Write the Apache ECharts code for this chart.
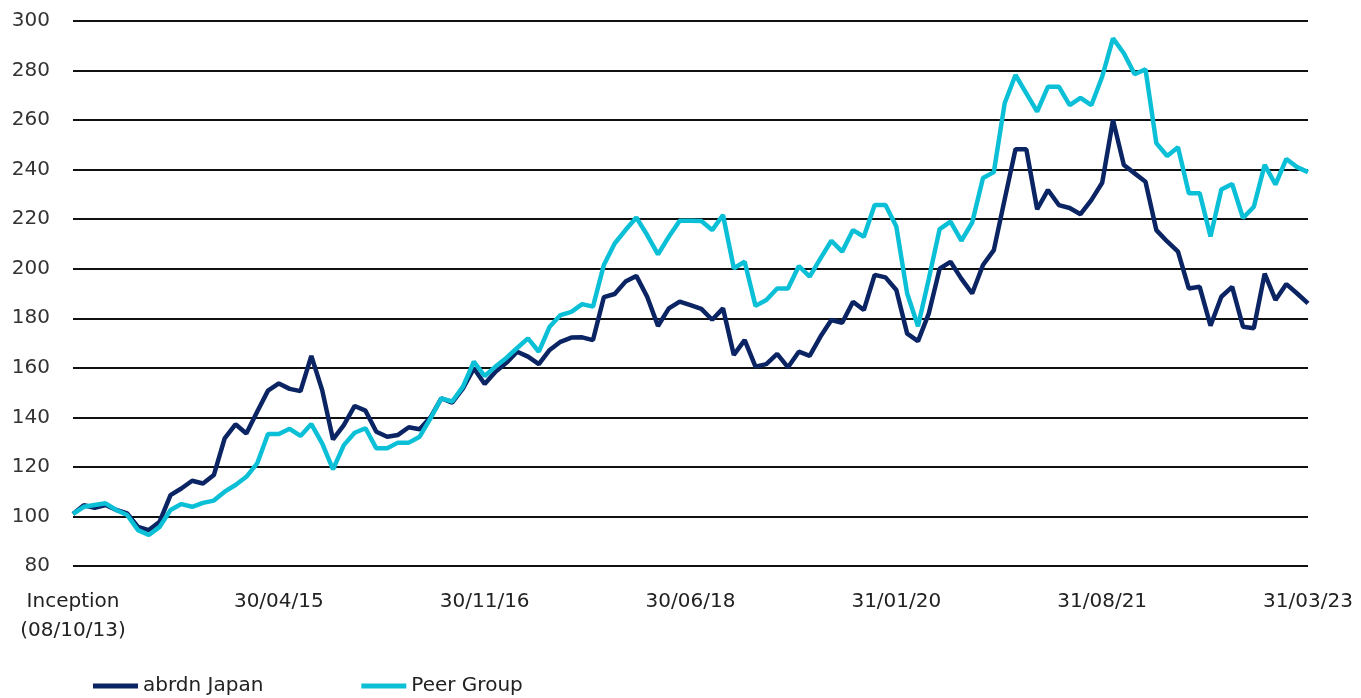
<!DOCTYPE html>
<html>
<head>
<meta charset="utf-8">
<script src="https://cdn.jsdelivr.net/npm/echarts@6/dist/echarts.min.js"></script>
<style>
  html, body { margin: 0; padding: 0; background: #fff; }
  #chart { width: 1361px; height: 698px; }
</style>
</head>
<body>
<div id="chart"></div>
<script>
// series names
var seriesNames = ["abrdn Japan", "Peer Group"];

// month-end dates from inception (08/10/13) to 31/03/23
var dates = ["Inception\n(08/10/13)"];
(function () {
  var y = 2013, m = 10;
  while (y < 2023 || (y === 2023 && m <= 3)) {
    var last = new Date(y, m, 0).getDate();
    dates.push(last + "/" + String(m).padStart(2, "0") + "/" + String(y % 100).padStart(2, "0"));
    m++;
    if (m > 12) { m = 1; y++; }
  }
})();

// abrdn Japan (rebased to 100)
var fundValues = [
  101, 104.5, 103.5, 104.6, 102.6, 101.2, 95.8, 94.5, 97.9, 108.6,
  111.3, 114.4, 113.3, 116.7, 131.5, 137.2, 133.5, 142.3, 150.8, 153.7,
  151.5, 150.6, 164.8, 151, 131.1, 136.9, 144.6, 142.7, 134.2, 132.2,
  132.9, 136, 135.2, 140, 147.7, 145.9, 151.7, 159.8, 153.5, 158.4,
  162, 166.5, 164.5, 161.5, 167.2, 170.5, 172.2, 172.3, 171.2, 188.5,
  189.8, 194.8, 197.1, 188.7, 176.9, 184, 186.7, 185.3, 183.8, 179.4,
  184, 165.2, 171.2, 160.5, 161.5, 165.6, 160.2, 166.5, 164.8, 172.6,
  179.3, 178.2, 186.7, 183.3, 197.5, 196.5, 191.4, 173.8, 170.8, 182,
  200, 202.8, 196, 190, 201.5, 207.5, 228, 248.2, 248.2, 224,
  231.8, 225.7, 224.5, 222, 227.7, 234.7, 260, 241.9, 238.5, 235.1,
  215.6, 211, 206.9, 192, 192.7, 177, 188.7, 192.7, 176.6, 176,
  198, 187.4, 193.8, 190, 186
];

// Peer Group (rebased to 100)
var peerValues = [
  101, 103.9, 104.6, 105.3, 102.6, 100.6, 94.5, 92.5, 95.8, 102.6,
  105, 103.9, 105.5, 106.4, 110, 112.7, 116, 121.4, 133.3, 133.3,
  135.4, 132.5, 137.3, 129.5, 119, 128.8, 133.8, 135.6, 127.5, 127.5,
  129.8, 129.8, 132.2, 139.6, 147.7, 146.4, 152.4, 162.5, 156.7, 160.5,
  164, 168, 171.9, 166.5, 176.6, 181.3, 182.6, 185.7, 184.7, 201.5,
  210.2, 215.6, 220.7, 213.6, 205.8, 212.9, 219.4, 219.4, 219.3, 215.6,
  221.7, 200.2, 202.8, 185, 187.4, 192, 192, 201.1, 196.8, 204.2,
  211.3, 206.9, 215.6, 212.9, 225.7, 225.7, 217, 190, 176.8, 196,
  216, 219, 211.3, 218.6, 236.6, 239, 266.8, 278.2, 270.8, 263.4,
  273.5, 273.5, 266, 269, 266, 277.5, 293, 287, 278.5, 280.5,
  250.7, 245.5, 249, 230.5, 230.5, 213, 232, 234.2, 220.5, 225,
  241.9, 234, 244.3, 241, 239
];

var chart = echarts.init(document.getElementById("chart"));

var option = {
  animation: false,
  color: ["#0b2463", "#0bc0d6"],
  grid: { left: 73, right: 53, top: 21, bottom: 132 },
  legend: {
    data: seriesNames,
    left: 88,
    top: 671,
    itemWidth: 45,
    itemHeight: 5,
    itemGap: 98,
    icon: "rect",
    textStyle: { fontSize: 20, color: "#222", fontFamily: "DejaVu Sans" }
  },
  xAxis: {
    type: "category",
    data: dates,
    boundaryGap: false,
    axisLine: { show: false },
    axisTick: { show: false },
    axisLabel: {
      interval: 18,
      margin: 21,
      fontSize: 20,
      lineHeight: 29,
      color: "#222",
      fontFamily: "DejaVu Sans"
    }
  },
  yAxis: {
    type: "value",
    min: 80,
    max: 300,
    interval: 20,
    axisLine: { show: false },
    axisTick: { show: false },
    axisLabel: { fontSize: 20, color: "#333", margin: 23, fontFamily: "DejaVu Sans" },
    splitLine: { lineStyle: { color: "#111", width: 2 } }
  },
  series: [
    {
      name: seriesNames[0],
      type: "line",
      data: fundValues,
      symbol: "none",
      lineStyle: { width: 4.5 }
    },
    {
      name: seriesNames[1],
      type: "line",
      data: peerValues,
      symbol: "none",
      lineStyle: { width: 4.5 }
    }
  ]
};

chart.setOption(option);
</script>
</body>
</html>
